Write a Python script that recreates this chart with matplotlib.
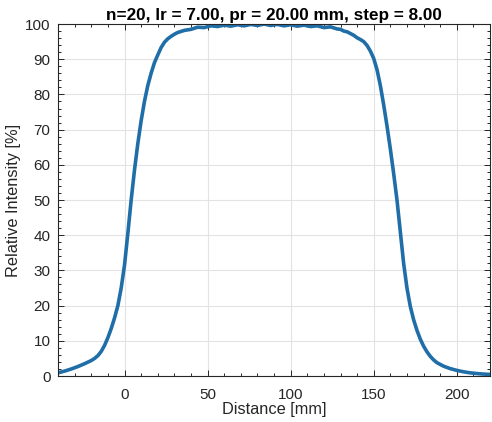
import matplotlib
matplotlib.use("Agg")
import matplotlib.pyplot as plt
from matplotlib.ticker import MultipleLocator

plt.rcParams["font.family"] = ["Liberation Sans", "DejaVu Sans"]

distance = [-40, -36, -32, -28, -24, -20, -18, -16, -14, -12, -10, -8, -6, -4, -2,
            0, 2, 4, 6, 8, 10, 12, 14, 16, 18, 20, 22, 24, 26, 28, 30, 32,
            36, 40, 44, 48, 52, 56, 60, 64, 68, 72, 76, 80, 84, 88, 92, 96,
            100, 104, 108, 112, 116, 120, 124, 128,
            130, 132, 134, 136, 138, 140, 142, 144, 146, 148, 150, 152, 154,
            156, 158, 160, 162, 164, 166, 168, 170, 172, 174, 176, 178, 180,
            182, 184, 186, 188, 192, 196, 200, 204, 208, 212, 216, 220]
intensity = [0.9, 1.4, 2.0, 2.7, 3.5, 4.4, 5.0, 5.8, 7.0, 8.7, 10.9, 13.5, 16.5, 20.0, 25.0,
             31.5, 40.5, 50.0, 58.5, 66.0, 72.5, 78.0, 82.5, 86.0, 89.0, 91.2, 93.3, 94.8, 95.8, 96.5, 97.1, 97.6,
             98.2, 98.5, 99.1, 99.0, 99.5, 99.3, 99.7, 99.4, 99.8, 99.5, 99.9, 99.6, 100.0, 99.6, 99.9, 99.5,
             99.8, 99.4, 99.7, 99.3, 99.5, 99.0, 99.2, 98.6,
             98.5, 98.0, 97.8, 97.3, 96.8, 96.1, 95.6, 95.0, 93.9, 92.3, 90.2, 87.0, 82.5,
             77.0, 71.0, 64.5, 57.5, 50.0, 41.0, 32.0, 25.0, 19.8, 16.0, 13.0, 10.5, 8.5,
             6.9, 5.6, 4.6, 3.8, 2.8, 2.1, 1.6, 1.2, 0.9, 0.7, 0.55, 0.45]

fig = plt.figure(figsize=(4.92, 4.22), dpi=100)
ax = fig.add_axes([0.118, 0.109, 0.878, 0.834])

ax.plot(distance, intensity, color="#1f6ea8", linewidth=2.6)

ax.set_xlim(-40, 220)
ax.set_ylim(0, 100)
ax.xaxis.set_major_locator(MultipleLocator(50))
ax.xaxis.set_minor_locator(MultipleLocator(10))
ax.yaxis.set_major_locator(MultipleLocator(10))
ax.yaxis.set_minor_locator(MultipleLocator(2))
ax.grid(True, which="major", color="#e3e3e3", linewidth=0.8)
ax.set_axisbelow(True)

ax.tick_params(which="both", direction="in", top=True, right=True,
               colors="#262626", labelsize=11, width=0.7)
ax.tick_params(which="major", length=4)
ax.tick_params(which="minor", length=2)
ax.tick_params(axis="x", pad=8.5)
ax.tick_params(axis="y", pad=5.5)
for s in ax.spines.values():
    s.set_color("#262626")
    s.set_linewidth(0.8)

ax.set_xlabel("Distance [mm]", fontsize=11.8, color="#262626", labelpad=0)
ax.set_ylabel("Relative Intensity [%]", fontsize=11.8, color="#262626", labelpad=2.5)
ax.set_title("n=20, lr = 7.00, pr = 20.00 mm, step = 8.00", fontsize=12.3,
             fontweight="bold", color="black", pad=3)

fig.savefig("out.png", dpi=100)
